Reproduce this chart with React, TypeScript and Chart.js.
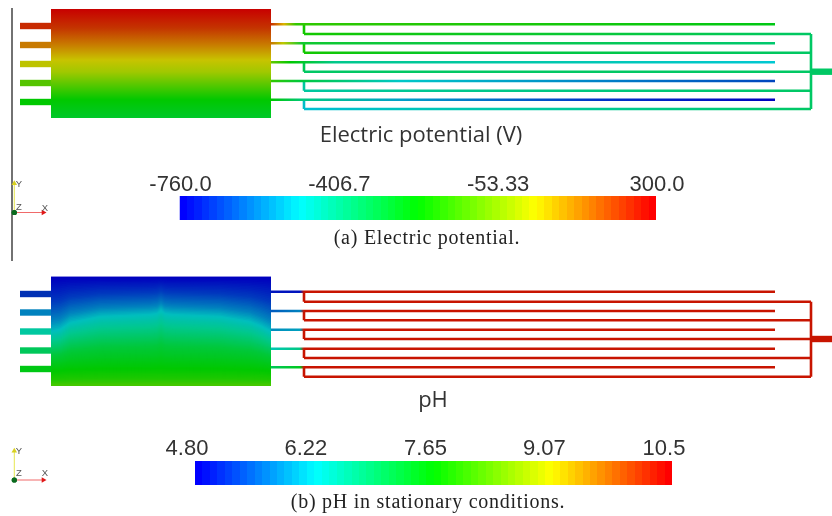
import React, { useEffect, useRef } from "react";
import { Chart, registerables } from "chart.js";

Chart.register(...registerables);

// ---------- geometry of the cell, in picture units ----------
const bodyX = [51, 271];
const potBodyY = [9, 118];
const phBodyY = [276.7, 385.7];
const stubX = [20, 51];
const outletX = [811, 832];
const supplyStartX = 271;
const supplyEndX = 775;
const connectorX = 304;
const manifoldX = 811;

const potStubY = [26, 45, 64, 83, 102];
const potSupplyY = [24.3, 43.3, 62.3, 81, 99.7];
const potReturnY = [34, 52.7, 71.7, 90.7, 109];
const phStubY = [294, 312.5, 331.5, 350.5, 369];
const phSupplyY = [291.7, 311, 329.7, 348.7, 367.3];
const phReturnY = [301.7, 320.3, 339, 358, 376.7];

// ---------- colours ----------
type Stop = [number, string];
const potStubColors = ["#c82a00", "#c87a00", "#bec300", "#55c400", "#00c800"];
const phStubColors = ["#0030b4", "#0082be", "#00c8a0", "#00c85a", "#00c814"];

const potBodyStops: Stop[] = [
  [9, "#c80000"], [28, "#c43400"], [44, "#c87800"], [60, "#c8c300"],
  [72, "#a0c800"], [86, "#50c800"], [100, "#00c800"], [118, "#00c82a"],
];
const potSupplyStops: Stop[][] = [
  [[271, "#c83000"], [284, "#dcb400"], [296, "#30c800"], [775, "#00c814"]],
  [[271, "#c87800"], [283, "#bec800"], [302, "#10c830"], [775, "#00c86e"]],
  [[271, "#64c800"], [290, "#00c800"], [335, "#00c88c"], [775, "#00c8d2"]],
  [[271, "#32c800"], [300, "#00c83c"], [400, "#00c8c8"], [600, "#0082c8"], [775, "#0046be"]],
  [[271, "#00c800"], [304, "#00c882"], [400, "#00a0c8"], [600, "#0032c8"], [775, "#0000be"]],
];
const potReturnStops: Stop[][] = [
  [[304, "#14c800"], [811, "#00c864"]],
  [[304, "#14c800"], [500, "#00c83c"], [811, "#00c864"]],
  [[304, "#00c864"], [811, "#00c864"]],
  [[304, "#00c8a0"], [811, "#00c864"]],
  [[304, "#00bed2"], [500, "#00c8aa"], [811, "#00c864"]],
];
const potConnectorColors = ["#14c800", "#14c800", "#00c850", "#00c8a0", "#00bec8"];
const potManifoldColor = "#00c864";

const phRed = "#c81400";
const phSupplyInletStops: Stop[][] = [
  [[271, "#0014be"], [300, "#0014be"], [304, phRed]],
  [[271, "#005abe"], [300, "#0082be"], [304, phRed]],
  [[271, "#008cbe"], [300, "#00a0be"], [304, phRed]],
  [[271, "#00c8b4"], [300, "#00c882"], [304, phRed]],
  [[271, "#00c85a"], [300, "#00c81e"], [304, phRed]],
];

// pH field: colour against depth, and the arch its contours follow
const phFieldY = [277, 292, 305, 313, 326, 345, 368, 378, 386];
const phFieldColors = ["#0000be", "#003cbe", "#0082be", "#00bebe", "#00c88c", "#00c83c", "#00c800", "#1ec800", "#50c800"];
const phArchX = [51, 60, 70, 100, 150, 157, 161, 165, 172, 220, 250, 262, 271];
const phArchDepth = [18, 16, 9, 3, 1, 0, -3, 0, 1, 3, 8, 13, 18];
const phWeightY = [277, 290, 313, 345, 370, 386];
const phWeight = [0, 0.5, 1, 0.55, 0.12, 0];

// ---------- colour bars ----------
const potRange = [-760, 300];
const potTicks = [-760, -406.67, -53.33, 300];
const potTickLabels = ["-760.0", "-406.7", "-53.33", "300.0"];
const phRange = [4.8, 10.5];
const phTicks = [4.8, 6.22, 7.65, 9.07, 10.5];
const phTickLabels = ["4.80", "6.22", "7.65", "9.07", "10.5"];
const rainbow = [[0, 0, 255], [0, 255, 255], [0, 255, 0], [255, 255, 0], [255, 0, 0]];
const bandCount = 64;

// ---------- text ----------
const captionFont = "20px 'Liberation Serif'";
const titleFont = "22px 'Open Sans'";
const axisFont = "9.5px 'Liberation Sans'";
const texts = [
  { t: "Electric potential (V)", x: 421, y: 136, font: titleFont, c: "#333", sp: "0px" },
  { t: "pH", x: 433, y: 401, font: titleFont, c: "#333", sp: "0px" },
  { t: "(a) Electric potential.", x: 427, y: 239, font: captionFont, c: "#222", sp: "0.75px" },
  { t: "(b) pH in stationary conditions.", x: 428, y: 503, font: captionFont, c: "#222", sp: "0.75px" },
  { t: "Y", x: 19, y: 184, font: axisFont, c: "#555", sp: "0px" },
  { t: "Z", x: 19, y: 207, font: axisFont, c: "#555", sp: "0px" },
  { t: "X", x: 45, y: 208, font: axisFont, c: "#555", sp: "0px" },
  { t: "Y", x: 19, y: 451, font: axisFont, c: "#555", sp: "0px" },
  { t: "Z", x: 19, y: 473, font: axisFont, c: "#555", sp: "0px" },
  { t: "X", x: 45, y: 473, font: axisFont, c: "#555", sp: "0px" },
];

const triads = [
  { x: 14.3, y: 212.5 },
  { x: 14.3, y: 480 },
];
const triadX = 29;
const triadY = 29;

const wall = { x: 12, y: [8, 261] };

// ---------- helpers ----------
const hexRgb = (h: string) => [1, 3, 5].map((i) => parseInt(h.slice(i, i + 2), 16));
const lerp1 = (xs: number[], ys: number[], x: number) => {
  if (x <= xs[0]) return ys[0];
  for (let i = 1; i < xs.length; i++) {
    if (x <= xs[i]) return ys[i - 1] + ((ys[i] - ys[i - 1]) * (x - xs[i - 1])) / (xs[i] - xs[i - 1]);
  }
  return ys[ys.length - 1];
};
const phColorAt = (y: number) => {
  const rgb = phFieldColors.map(hexRgb);
  const c = [0, 1, 2].map((k) => Math.round(lerp1(phFieldY, rgb.map((r) => r[k]), y)));
  return `rgb(${c.join(",")})`;
};

const grad = (axis: "x" | "y", stops: Stop[]) => (ctx: any) => {
  const chart = ctx.chart;
  if (!chart.chartArea) return stops[0][1];
  const s = chart.scales[axis];
  const a = s.getPixelForValue(stops[0][0]);
  const b = s.getPixelForValue(stops[stops.length - 1][0]);
  const g = axis === "x"
    ? chart.ctx.createLinearGradient(a, 0, b, 0)
    : chart.ctx.createLinearGradient(0, a, 0, b);
  stops.forEach(([v, c]) => g.addColorStop((v - stops[0][0]) / (stops[stops.length - 1][0] - stops[0][0]), c));
  return g;
};

const bandGradient = (axisId: string, range: number[]) => (ctx: any) => {
  const chart = ctx.chart;
  if (!chart.chartArea) return "#00f";
  const s = chart.scales[axisId];
  const g = chart.ctx.createLinearGradient(s.getPixelForValue(range[0]), 0, s.getPixelForValue(range[1]), 0);
  for (let i = 0; i < bandCount; i++) {
    const t = (i / (bandCount - 1)) * (rainbow.length - 1);
    const j = Math.min(Math.floor(t), rainbow.length - 2);
    const f = t - j;
    const c = [0, 1, 2].map((k) => Math.round(rainbow[j][k] + (rainbow[j + 1][k] - rainbow[j][k]) * f));
    const col = `rgb(${c.join(",")})`;
    g.addColorStop(i / bandCount, col);
    g.addColorStop((i + 1) / bandCount, col);
  }
  return g;
};

const line = (pts: number[][], color: any, width: number) => ({
  type: "line",
  data: pts.map(([x, y]) => ({ x, y })),
  borderColor: color,
  borderWidth: width,
  pointRadius: 0,
  tension: 0,
  borderCapStyle: "butt",
  borderJoinStyle: "miter",
  fill: false,
});

const area = (pts: number[][], bottom: number, color: any, extra: object = {}) => ({
  type: "line",
  data: pts.map(([x, y]) => ({ x, y })),
  borderWidth: 0,
  borderColor: "transparent",
  backgroundColor: color,
  pointRadius: 0,
  tension: 0,
  fill: { value: bottom },
  ...extra,
});

const THIN = 2.6;
const THICK = 6.4;

const buildDatasets = () => {
  const paint: any[] = [];

  // wall
  paint.push(line([[wall.x, wall.y[0]], [wall.x, wall.y[1]]], "#444", 1.5));

  // electric potential body
  paint.push(area([[bodyX[0], potBodyY[0]], [bodyX[1], potBodyY[0]]], potBodyY[1], grad("y", potBodyStops)));

  potStubY.forEach((y, i) => {
    paint.push(line([[stubX[0], y], [stubX[1], y]], potStubColors[i], THICK));
    paint.push(line([[connectorX, potSupplyY[i]], [connectorX, potReturnY[i]]], potConnectorColors[i], THIN));
    paint.push(line([[supplyStartX, potSupplyY[i]], [supplyEndX, potSupplyY[i]]], grad("x", potSupplyStops[i]), THIN));
    paint.push(line([[connectorX, potReturnY[i]], [manifoldX, potReturnY[i]]], grad("x", potReturnStops[i]), THIN));
  });
  paint.push(line([[manifoldX, potReturnY[0]], [manifoldX, potReturnY[4]]], potManifoldColor, THIN));
  paint.push(line([[outletX[0], potReturnY[2]], [outletX[1], potReturnY[2]]], potManifoldColor, THICK));

  // pH body, contour layers from the top down
  paint.push(area([[bodyX[0], phBodyY[0]], [bodyX[1], phBodyY[0]]], phBodyY[1], phColorAt(phBodyY[0])));
  for (let base = phBodyY[0]; base < phBodyY[1]; base += 1.2) {
    const w = lerp1(phWeightY, phWeight, base);
    const pts = phArchX.map((x, i) => [
      x,
      Math.min(phBodyY[1], Math.max(phBodyY[0], base + w * phArchDepth[i])),
    ]);
    paint.push(area(pts, phBodyY[1], phColorAt(base)));
  }

  phStubY.forEach((y, i) => {
    paint.push(line([[stubX[0], y], [stubX[1], y]], phStubColors[i], THICK));
    paint.push(line([[connectorX, phSupplyY[i]], [connectorX, phReturnY[i]]], phRed, THIN));
    paint.push(line([[supplyStartX, phSupplyY[i]], [supplyEndX, phSupplyY[i]]], grad("x", [...phSupplyInletStops[i], [775, phRed]]), THIN));
    paint.push(line([[connectorX, phReturnY[i]], [manifoldX, phReturnY[i]]], phRed, THIN));
  });
  paint.push(line([[manifoldX, phReturnY[0]], [manifoldX, phReturnY[4]]], phRed, THIN));
  paint.push(line([[outletX[0], phReturnY[2]], [outletX[1], phReturnY[2]]], phRed, THICK));

  // colour bars
  paint.push(area(potRange.map((v) => [v, 196]), 220, bandGradient("xPot", potRange), { xAxisID: "xPot" }));
  paint.push(area(phRange.map((v) => [v, 461]), 485, bandGradient("xPh", phRange), { xAxisID: "xPh" }));

  // orientation triads
  triads.forEach((o) => {
    paint.push({
      ...line([[o.x, o.y], [o.x, o.y - triadY]], "#e6e650", 1),
      pointRadius: [0, 3.2],
      pointStyle: "triangle",
      pointBackgroundColor: "#d8d020",
      pointBorderWidth: 0,
    });
    paint.push({
      ...line([[o.x, o.y], [o.x + triadX, o.y]], "#f06a6a", 1),
      pointRadius: [0, 3.2],
      pointStyle: "triangle",
      pointRotation: 90,
      pointBackgroundColor: "#e01818",
      pointBorderWidth: 0,
    });
    paint.push({
      ...line([[o.x, o.y], [o.x, o.y]], "transparent", 0),
      pointRadius: 2.6,
      pointBackgroundColor: "#0a6a1e",
      pointBorderWidth: 0,
    });
  });

  // Chart.js paints the last dataset first
  return paint.reverse();
};

const textPlugin = {
  id: "figureText",
  afterDraw(chart: any) {
    const { ctx, scales } = chart;
    ctx.save();
    ctx.textAlign = "center";
    ctx.textBaseline = "middle";
    texts.forEach((l) => {
      ctx.font = l.font;
      ctx.letterSpacing = l.sp;
      ctx.fillStyle = l.c;
      ctx.fillText(l.t, scales.x.getPixelForValue(l.x), scales.y.getPixelForValue(l.y));
    });
    ctx.restore();
  },
};

// value axis of a colour bar, placed so that its range spans the bar
const barAxis = (range: number[], left: number, right: number, ticks: number[], labels: string[], topY: number, labelOffset: number) => {
  const perPx = (range[1] - range[0]) / (right - left);
  return {
    type: "linear",
    min: range[0] - left * perPx,
    max: range[1] + (832 - right) * perPx,
    position: { y: topY },
    grid: { display: false },
    border: { display: false },
    afterBuildTicks: (s: any) => {
      s.ticks = ticks.map((value) => ({ value }));
    },
    ticks: {
      autoSkip: false,
      maxRotation: 0,
      minRotation: 0,
      padding: 0,
      labelOffset,
      color: "#333",
      font: { family: "'Liberation Sans'", size: 22 },
      callback: (_: any, i: number) => labels[i],
    },
  };
};

export default function App() {
  const ref = useRef<HTMLCanvasElement>(null);
  useEffect(() => {
    const chart = new Chart(ref.current as any, {
      type: "line",
      data: { datasets: buildDatasets() as any },
      plugins: [textPlugin],
      options: {
        animation: false,
        responsive: false,
        events: [],
        layout: { padding: 0, autoPadding: false },
        plugins: { legend: { display: false }, tooltip: { enabled: false } },
        scales: {
          x: { type: "linear", min: 0, max: 832, display: false },
          y: { type: "linear", min: 0, max: 516, reverse: true, display: false },
          xPot: barAxis(potRange, 179.5, 656, potTicks, potTickLabels, 164, 1),
          xPh: barAxis(phRange, 195, 672, phTicks, phTickLabels, 428, -8),
        },
      } as any,
    });
    return () => chart.destroy();
  }, []);
  return (
    <canvas
      ref={ref}
      width={832}
      height={516}
      style={{ position: "fixed", left: 0, top: 0, display: "block", filter: "blur(0.7px)" }}
    />
  );
}
